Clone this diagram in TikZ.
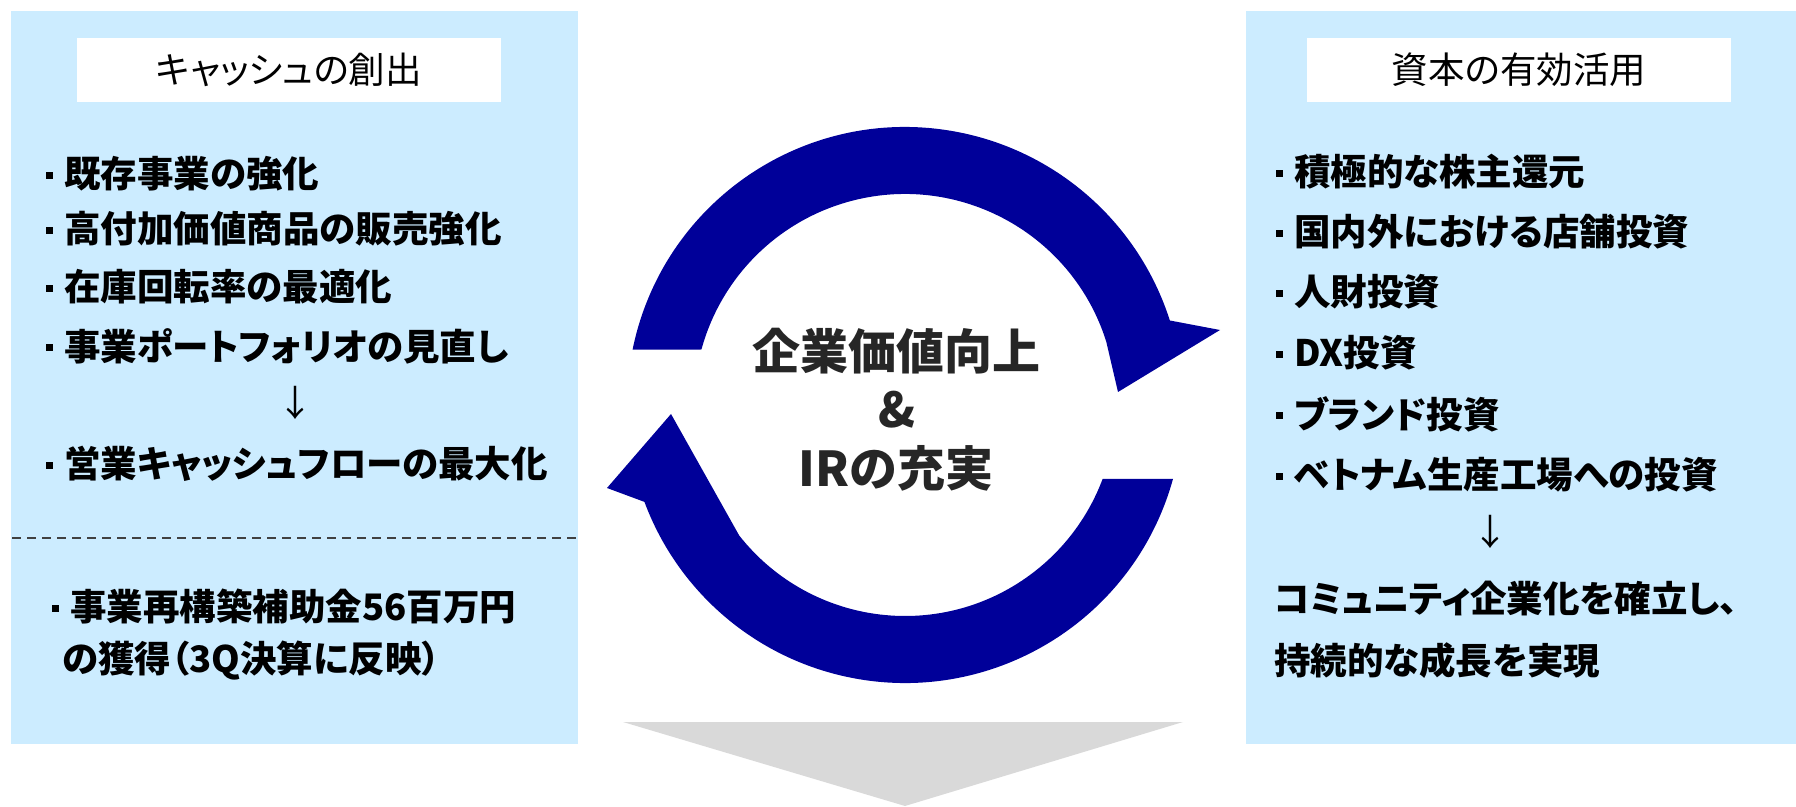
\documentclass[tikz,border=0pt]{standalone}
\usepackage{fontspec}
\setmainfont{Noto Sans CJK JP}[RawFeature=+palt]
\usetikzlibrary{calc}
\definecolor{boxblue}{HTML}{CCECFF}
\definecolor{arrowblue}{HTML}{000099}
\definecolor{centertext}{HTML}{262626}
\definecolor{arrowgray}{HTML}{D9D9D9}
\definecolor{dashgray}{HTML}{404040}
\newcommand{\bul}{\makebox[18pt][l]{\raisebox{9pt}{\rule{7pt}{7pt}}}}
\begin{document}
\begin{tikzpicture}[x=1pt,y=1pt,
  panel/.style={fill=boxblue, draw=none},
  titlebox/.style={fill=white, draw=none},
  titletext/.style={inner sep=0pt, font=\fontsize{36.5}{40}\selectfont},
  item/.style={anchor=west, inner sep=0pt, font=\bfseries\fontsize{36.5}{40}\selectfont},
  downarrow/.style={inner sep=0pt, font=\fontsize{36}{40}\selectfont},
  centerlabel/.style={inner sep=0pt, text=centertext, font=\bfseries\fontsize{48}{52}\selectfont},
  cyclearrow/.style={fill=arrowblue, draw=none},
  sep/.style={draw=dashgray, line width=1.2pt, dash pattern=on 9pt off 6pt},
]
\useasboundingbox (0,0) rectangle (1796,806);

% panels
\fill[panel] (11,62) rectangle (578,795);
\fill[panel] (1246,62) rectangle (1796,795);
\fill[titlebox] (77,704) rectangle (501,768);
\fill[titlebox] (1307,704) rectangle (1731,768);

% titles
\node[titletext] (ltitle) at (289,736) {キャッシュの創出};
\node[titletext] (rtitle) at (1519,736) {資本の有効活用};

% left items
\node[item] (l1) at (46,632) {\bul 既存事業の強化};
\node[item] (l2) at (46,577) {\bul 高付加価値商品の販売強化};
\node[item] (l3) at (46,519) {\bul 在庫回転率の最適化};
\node[item] (l4) at (46,460) {\bul 事業ポートフォリオの見直し};
\node[downarrow] (larrow) at (295,403) {↓};
\node[item] (l5) at (46,342) {\bul 営業キャッシュフローの最大化};

\coordinate (sepA) at (12,268);
\coordinate (sepB) at (576,268);
\draw[sep] (sepA) -- (sepB);

\node[item] (l6) at (52,199) {\bul 事業再構築補助金56百万円};
\node[item] (l7) at (62,145) {の獲得（3Q決算に反映）};

% right items
\node[item] (r1) at (1276,634) {\bul 積極的な株主還元};
\node[item] (r2) at (1276,574) {\bul 国内外における店舗投資};
\node[item] (r3) at (1276,514) {\bul 人財投資};
\node[item] (r4) at (1276,453) {\bul DX投資};
\node[item] (r5) at (1276,392) {\bul ブランド投資};
\node[item] (r6) at (1276,331) {\bul ベトナム生産工場への投資};
\node[downarrow] (rarrow) at (1490,274) {↓};
\node[item] (r7) at (1274,207) {コミュニティ企業化を確立し、};
\node[item] (r8) at (1274,145) {持続的な成長を実現};

% cycle arrows
\coordinate (C) at (905,401);
\fill[cyclearrow] ($(C)+(168.5:278)$) arc[start angle=168.5, end angle=17.7, radius=278]
  -- (1220,476) -- (1118,414) -- ($(C)+(17.5:211)$)
  arc[start angle=17.5, end angle=164.75, radius=211] -- cycle;
\fill[cyclearrow] ($(C)+(-15.4:278)$) arc[start angle=-15.4, end angle=-159.6, radius=278]
  -- (607,318) -- (671,392) -- ($(C)+(-141.8:211)$)
  arc[start angle=-141.8, end angle=-20.5, radius=211] -- cycle;

% center text
\node[centerlabel] (c1) at (896,455) {企業価値向上};
\node[centerlabel] (c2) at (897,396) {\&};
\node[centerlabel] (c3) at (896,338) {IRの充実};

% gray down arrow
\fill[arrowgray] (623,84) -- (1183,84) -- (905,0) -- cycle;
\end{tikzpicture}
\end{document}
